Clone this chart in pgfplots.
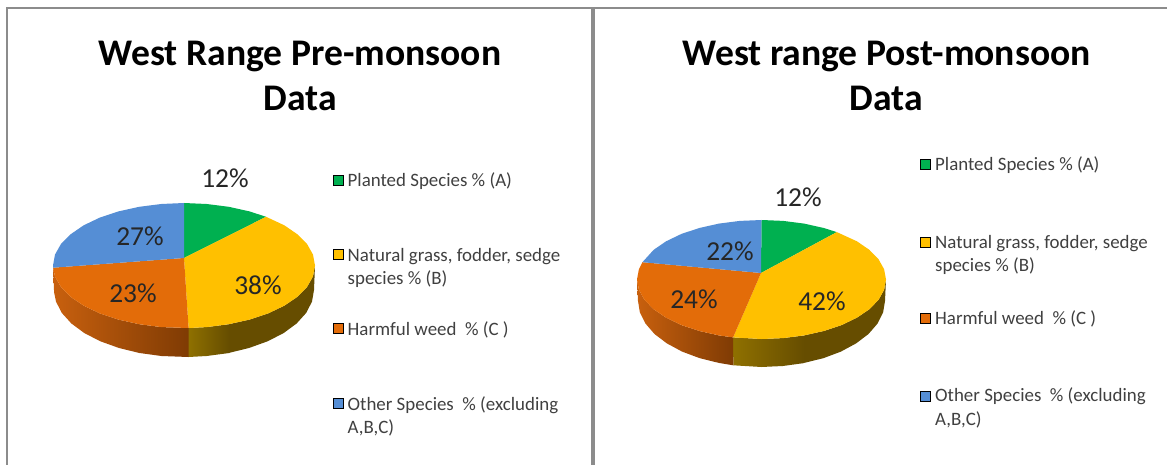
\documentclass[border=0pt]{standalone}
\usepackage{pgfplots}
\pgfplotsset{compat=1.18}
\usepackage{fontspec}
\setmainfont{Carlito}
\definecolor{cG}{HTML}{00B050}
\definecolor{cY}{HTML}{FFC000}
\definecolor{cO}{HTML}{E36C09}
\definecolor{cB}{HTML}{558ED5}
\definecolor{cYd}{HTML}{664D00}
\definecolor{cYm}{HTML}{8F7000}
\definecolor{cOl}{HTML}{C8600E}
\definecolor{cOd}{HTML}{7F3B04}
\definecolor{frame}{HTML}{8C8C8C}
\definecolor{lab}{HTML}{262626}
\definecolor{leg}{HTML}{404040}
\newcommand{\ttl}[3]{\node[anchor=base,font=\bfseries\fontsize{37.6}{38}\selectfont,text=black] at (axis cs:#1,#2) {#3};}
\newcommand{\dl}[3]{\node[anchor=center,font=\fontsize{27.4}{28}\selectfont,text=lab] at (axis cs:#1,#2) {#3};}
\newcommand{\lgd}[3]{\node[anchor=base west,inner sep=0pt,font=\fontsize{18.9}{19}\selectfont,text=leg] at (axis cs:#1,#2) {#3};}
\begin{document}
\begin{tikzpicture}
\begin{axis}[
  scale only axis, width=1167pt, height=465pt,
  xmin=0, xmax=1167, ymin=0, ymax=465, y dir=reverse,
  hide axis, clip=true]
\fill[white] (rel axis cs:0,0) rectangle (rel axis cs:1,1);
% frame
\addplot[frame, line width=2.6pt] coordinates {(7,465) (7,8) (1167,8)};
\addplot[frame, line width=3.2pt] coordinates {(593,8) (593,465)};

% ---------- left pie: side wall
\addplot[draw=none, fill=cYd] coordinates {(315,265.5)(313,276.4)(307.1,286.9)(297.4,296.8)(284.3,305.7)(268.2,313.4)(249.5,319.6)(228.8,324.2)
  (228.5,353)(249,348)(267.6,341.3)(283.6,333.1)(296.6,323.5)(306.2,312.9)(312,301.6)(314,290)};
\addplot[draw=none, shade, left color=cYm, right color=cYd] coordinates {(229.3,324.2)(206.7,327.1)(188.6,328)
  (188.5,357)(206.6,356)(229.3,353)};
\addplot[draw=none, shade, left color=cOl, right color=cOd] coordinates {(188.6,328)(161.3,327.1)(139.2,324.2)(118.5,319.6)(99.8,313.4)(83.7,305.7)(70.6,296.8)(60.9,286.9)(55,276.4)(53.1,267.7)
  (54.1,292.3)(56,301.6)(61.8,312.9)(71.4,323.5)(84.4,333.1)(100.4,341.3)(119,348)(139.5,353)(161.4,356)(188.5,357)};
% left pie: top face
\addplot[draw=none, fill=cG] coordinates {(184,258)(184,203)(206.7,204)(228.8,206.8)(249.5,211.4)(266.1,216.8)};
\addplot[draw=none, fill=cY] coordinates {(184,258)(266.1,216.8)(284.3,225.3)(297.4,234.3)(307.1,244.1)(313,254.6)(315,265.5)(313,276.4)(307.1,286.9)(297.4,296.8)(284.3,305.7)(268.2,313.4)(249.5,319.6)(228.8,324.2)(206.7,327.1)(188.6,328)};
\addplot[draw=none, fill=cO] coordinates {(184,258)(188.6,328)(161.3,327.1)(139.2,324.2)(118.5,319.6)(99.8,313.4)(83.7,305.7)(70.6,296.8)(60.9,286.9)(55,276.4)(53.1,267.7)};
\addplot[draw=none, fill=cB] coordinates {(184,258)(53.1,267.7)(53,265.5)(55,254.6)(60.9,244.1)(70.6,234.3)(83.7,225.3)(99.8,217.6)(118.5,211.4)(139.2,206.8)(161.3,204)(184,203)};

% ---------- right pie: side wall
\addplot[draw=none, fill=cYd] coordinates {(886,279.5)(884.1,289.8)(878.5,299.9)(869.3,309.3)(856.9,317.7)(841.5,325.1)(823.8,331)(804.1,335.4)
  (803.7,363)(823.3,358.2)(840.9,351.6)(856.1,343.4)(868.5,334)(877.5,323.6)(883.1,312.5)(885,301)};
\addplot[draw=none, shade, left color=cYm, right color=cYd] coordinates {(804.6,335.4)(783.1,338.1)(761.5,339)(733.1,337.4)
  (733.3,365.3)(761.5,367)(782.9,366)(804.6,363)};
\addplot[draw=none, shade, left color=cOl, right color=cOd] coordinates {(733.1,337.4)(718.9,335.4)(699.3,331)(681.5,325.1)(666.1,317.7)(653.7,309.3)(644.5,299.9)(638.9,289.8)(637,279.5)
  (638,301)(639.9,312.5)(645.5,323.6)(654.5,334)(666.9,343.4)(682.1,351.6)(699.8,358.2)(719.3,363)(733.3,365.3)};
% right pie: top face
\addplot[draw=none, fill=cG] coordinates {(761,273)(761.5,220)(783.1,220.9)(804.1,223.6)(823.8,228)(836.8,232.1)};
\addplot[draw=none, fill=cY] coordinates {(761,273)(836.8,232.1)(856.9,241.3)(869.3,249.8)(878.5,259.2)(884.1,269.2)(886,279.5)(884.1,289.8)(878.5,299.9)(869.3,309.3)(856.9,317.7)(841.5,325.1)(823.8,331)(804.1,335.4)(783.1,338.1)(761.5,339)(733.1,337.4)};
\addplot[draw=none, fill=cO] coordinates {(761,273)(733.1,337.4)(718.9,335.4)(699.3,331)(681.5,325.1)(666.1,317.7)(653.7,309.3)(644.5,299.9)(638.9,289.8)(637,279.5)(638.9,269.2)(642.4,262.2)};
\addplot[draw=none, fill=cB] coordinates {(761,273)(642.4,262.2)(653.7,249.8)(666.1,241.3)(681.5,233.9)(699.3,228)(718.9,223.6)(739.9,220.9)(761.5,220)};

% ---------- legend keys
\addplot[only marks, mark=square*, mark size=5pt, mark options={draw=none, fill=cG}] coordinates {(338,180)(925.3,164)};
\addplot[only marks, mark=square*, mark size=5pt, mark options={draw=none, fill=cY}] coordinates {(338,254.5)(925.3,241.7)};
\addplot[only marks, mark=square*, mark size=5pt, mark options={draw=none, fill=cO}] coordinates {(338,328.6)(925.3,318)};
\addplot[only marks, mark=square*, mark size=5pt, mark options={draw=none, fill=cB}] coordinates {(338,403)(925.3,395.7)};

% ---------- text
\ttl{300}{66}{West Range Pre-monsoon}
\ttl{300}{111}{Data}
\ttl{886.5}{66}{West range Post-monsoon}
\ttl{886.5}{111}{Data}
\dl{225}{178}{12\%}
\dl{140}{236}{27\%}
\dl{258}{285}{38\%}
\dl{133}{293}{23\%}
\dl{798}{197}{12\%}
\dl{730}{251}{22\%}
\dl{822}{301}{42\%}
\dl{694}{299}{24\%}
\lgd{347.5}{187}{Planted Species \% (A)}
\lgd{347.5}{261}{Natural grass, fodder, sedge}
\lgd{347.5}{284.3}{species \% (B)}
\lgd{347.5}{335}{Harmful weed\ \ \% (C )}
\lgd{347.5}{410.3}{Other Species\ \ \% (excluding}
\lgd{347.5}{433.7}{A,B,C)}
\lgd{935}{171}{Planted Species \% (A)}
\lgd{935}{248.3}{Natural grass, fodder, sedge}
\lgd{935}{271}{species \% (B)}
\lgd{935}{324.3}{Harmful weed\ \ \% (C )}
\lgd{935}{401.7}{Other Species\ \ \% (excluding}
\lgd{935}{425}{A,B,C)}
\end{axis}
\end{tikzpicture}
\end{document}
